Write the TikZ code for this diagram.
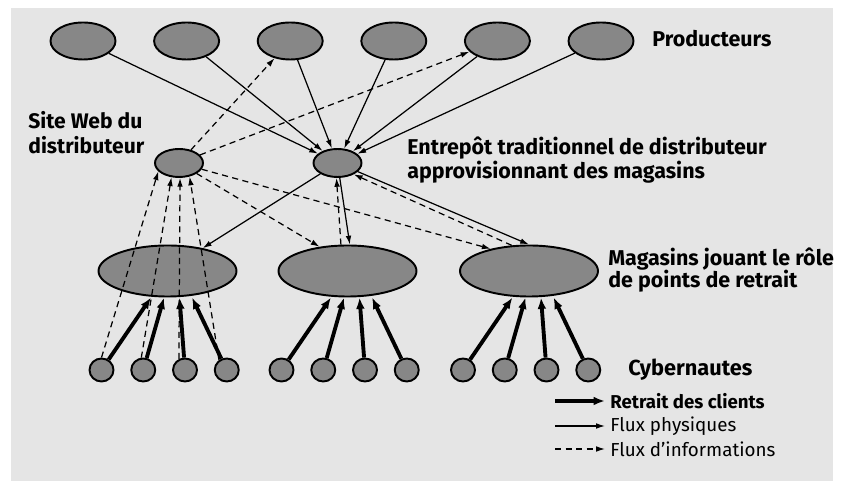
\documentclass[tikz,border=0pt]{standalone}
\usepackage{fontspec}
\setmainfont{Fira Sans}
\usetikzlibrary{shapes.geometric,arrows.meta,calc}
\definecolor{panelgray}{gray}{0.9}
\definecolor{nodegray}{gray}{0.53}

\begin{document}
\begin{tikzpicture}[every node/.style={align=left},
    blob/.style={ellipse, draw, line width=1.1pt, fill=nodegray, inner sep=0pt},
    prod/.style={blob, minimum width=1.3cm, minimum height=0.74cm},
    hub/.style={blob, minimum width=0.96cm, minimum height=0.56cm},
    shop/.style={blob, minimum width=2.76cm, minimum height=1.02cm},
    buyer/.style={blob, minimum width=0.48cm, minimum height=0.46cm},
    txt/.style={anchor=west, inner sep=0pt, font=\bfseries\fontsize{12.2}{12.5}\selectfont},
    phys/.style={-{Latex[length=5pt,width=3.2pt]}, line width=0.7pt},
    info/.style={phys, dash pattern=on 3.5pt off 2.5pt},
    pick/.style={-{Latex[length=6.5pt,width=5pt]}, line width=2.2pt}]
    \useasboundingbox (0,0) rectangle (16.84,9.62);
    \fill[panelgray] (0.22,0) rectangle (16.66,9.46);

    % producteurs, site web, entrepot
    \foreach \i in {1,...,6}
        \node[prod] (p\i) at ({1.66+2.072*(\i-1)},8.8) {};
    \node[hub] (web) at (3.58,6.36) {};
    \node[hub] (ent) at (6.75,6.36) {};

    % magasins et cybernautes
    \foreach \s/\x in {1/3.35,2/6.95,3/10.58} {
        \node[shop] (s\s) at (\x,4.2) {};
        \foreach \j in {1,...,4}
            \node[buyer] (c\s\j) at ({\x-1.32+0.835*(\j-1)},2.22) {};
    }

    \node[txt] (tprod) at (13.04,8.84) {Producteurs};
    \node[txt, font=\bfseries\fontsize{12}{14.2}\selectfont] (tweb) at (0.56,6.97) {Site Web du\\distributeur};
    \node[txt] (tent) at (8.14,6.41) {Entrepôt traditionnel de distributeur\\approvisionnant des magasins};
    \node[txt, font=\bfseries\fontsize{12.2}{13}\selectfont] (tshop) at (12.16,4.22) {Magasins jouant le rôle\\de points de retrait};
    \node[txt, font=\bfseries\fontsize{12.4}{13}\selectfont] (tcyb) at (12.56,2.22) {Cybernautes};

    % flux physiques
    \foreach \i in {1,...,6}
        \draw[phys] (p\i) -- (ent);
    \draw[phys] (ent) -- (s1.33);
    \draw[phys] (ent) -- (s2.85);
    \draw[phys] (ent) -- (s3.north);

    % flux d'informations
    \draw[info] (web) -- (p3);
    \draw[info] (web) -- (p5);
    \draw[info] (web) -- (s2.139);
    \draw[info] (web) -- (s3.150);
    \draw[info] (s2.104) -- (ent.266);
    \draw[info] (s3.124) -- (ent.325);
    \draw[info] (c11.90) -- (web.202);
    \draw[info] (c12.99) -- (web.242);
    \draw[info] (c13.119) -- (web.274);
    \draw[info] (c14.128) -- (web.308);

    % retrait des clients
    \foreach \s in {1,2,3}
        \foreach \j/\dx in {1/-0.33,2/-0.07,3/0.24,4/0.49}
            \draw[pick] (c\s\j) -- ($(s\s.south)+(\dx,0)$);

    % legende
    \node[txt, font=\bfseries\fontsize{10.6}{12}\selectfont] (lpick) at (12.2,1.6) {Retrait des clients};
    \node[txt, font=\fontsize{10.7}{12}\selectfont] (lphys) at (12.2,1.1) {Flux physiques};
    \node[txt, font=\fontsize{10.7}{12}\selectfont] (linfo) at (12.2,0.64) {Flux d’informations};
    \coordinate (apick) at (11.1,1.6);
    \coordinate (aphys) at (11.1,1.1);
    \coordinate (ainfo) at (11.1,0.64);
    \draw[pick] (apick) -- ($(lpick.west)+(-0.1,0)$);
    \draw[phys] (aphys) -- ($(lphys.west)+(-0.1,0)$);
    \draw[info] (ainfo) -- ($(linfo.west)+(-0.1,0)$);
\end{tikzpicture}
\end{document}
